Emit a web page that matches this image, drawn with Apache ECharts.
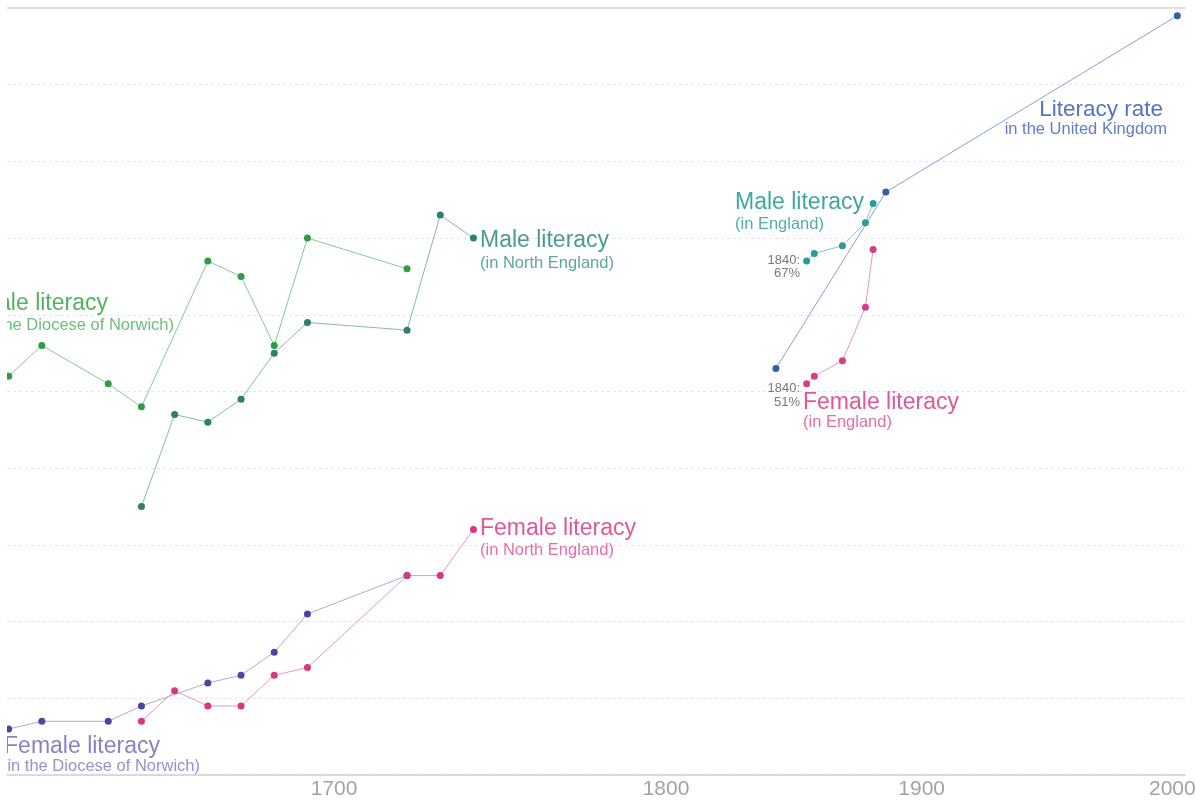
<!DOCTYPE html>
<html>
<head>
<meta charset="utf-8">
<title>Literacy in England</title>
<script src="https://cdn.jsdelivr.net/npm/echarts@6/dist/echarts.min.js"></script>
<style>
  html, body { margin: 0; padding: 0; background: #fff; }
  #main { width: 1199px; height: 801px; }
</style>
</head>
<body>
<div id="main"></div>
<script>
// years and literacy rates (%)
const norwichYears = [1602, 1612, 1632, 1642, 1662, 1672, 1682, 1692, 1722];
const norwichMale = [52, 56, 51, 48, 67, 65, 56, 70, 66];
const norwichFemale = [6, 7, 7, 9, 12, 13, 16, 21, 26];

const northYears = [1642, 1652, 1662, 1672, 1682, 1692, 1722, 1732, 1742];
const northMale = [35, 47, 46, 49, 55, 59, 58, 73, 70];
const northFemale = [7, 11, 9, 9, 13, 14, 26, 26, 32];

const englandYears = [1855, 1858, 1869, 1878, 1881];
const englandMale = [67, 68, 69, 72, 74.5];
const englandFemale = [51, 52, 54, 61, 68.5];

const ukYears = [1843, 1886, 2000];
const ukRate = [53, 76, 99];

const yearTicks = [1700, 1800, 1900, 2000];

const FONT = "'Liberation Sans', Arial, sans-serif";

function pairs(xs, ys) {
  return xs.map((x, i) => [x, ys[i]]);
}

function yearLabel(v) {
  if (!yearTicks.includes(v)) return "";
  // last tick sits close to the right edge, nudge it inward
  return v === 2000 ? "{edge|" + v + "}" : String(v);
}

function lineSeries(name, data, grid, dot, line) {
  return {
    name: name,
    type: "line",
    xAxisIndex: grid === 1 ? 2 : 3,
    yAxisIndex: grid,
    data: data,
    symbol: "circle",
    symbolSize: 7,
    itemStyle: { color: dot },
    lineStyle: { color: line, width: 1 },
    emphasis: { disabled: true },
    z: 3
  };
}

function label(x, y, text, size, color, align) {
  return {
    type: "text",
    x: x,
    y: y,
    z: 50,
    style: {
      text: text,
      font: size + "px " + FONT,
      fill: color,
      align: align || "left",
      verticalAlign: "middle"
    }
  };
}

const chart = echarts.init(document.getElementById("main"));

const yearLabelStyle = {
  margin: 4,
  color: "#a3a3a3",
  fontSize: 21,
  fontFamily: FONT,
  formatter: yearLabel,
  rich: {
    edge: { color: "#a3a3a3", fontSize: 21, fontFamily: FONT, padding: [0, 10, 0, 0] }
  }
};

const option = {
  animation: false,
  backgroundColor: "#fff",
  grid: [
    { left: 7, right: 14, top: 8, bottom: 26, outerBoundsMode: "none" },
    { left: 2, width: 664, top: 8, bottom: 26, outerBoundsMode: "none" },
    { left: 666, width: 519, top: 8, bottom: 26, outerBoundsMode: "none" }
  ],
  xAxis: [
    {
      gridIndex: 0, type: "value", min: 0, max: 1, position: "bottom",
      axisLine: { show: true, lineStyle: { color: "#cfcfcf", width: 1.5 } },
      axisTick: { show: false }, axisLabel: { show: false }, splitLine: { show: false }
    },
    {
      gridIndex: 0, type: "value", min: 0, max: 1, position: "top",
      axisLine: { show: true, lineStyle: { color: "#dedede", width: 2 } },
      axisTick: { show: false }, axisLabel: { show: false }, splitLine: { show: false }
    },
    {
      gridIndex: 1, type: "value", min: 1600, max: 1800, interval: 100,
      axisLine: { show: false }, axisTick: { show: false }, splitLine: { show: false },
      axisLabel: Object.assign({ showMinLabel: false }, yearLabelStyle)
    },
    {
      gridIndex: 2, type: "value", min: 1800, max: 2003, interval: 100,
      axisLine: { show: false }, axisTick: { show: false }, splitLine: { show: false },
      axisLabel: Object.assign({ showMinLabel: false, showMaxLabel: false }, yearLabelStyle)
    }
  ],
  yAxis: [
    {
      gridIndex: 0, type: "value", min: 0, max: 100, interval: 10,
      axisLine: { show: false }, axisTick: { show: false }, axisLabel: { show: false },
      splitLine: { show: true, lineStyle: { color: "#e6e6e6", width: 1, type: [3, 3] } }
    },
    { gridIndex: 1, type: "value", min: 0, max: 100, show: false },
    { gridIndex: 2, type: "value", min: 0, max: 100, show: false }
  ],
  series: [
    lineSeries("Male literacy (Diocese of Norwich)", pairs(norwichYears, norwichMale), 1, "#2e9e42", "#86cb92"),
    lineSeries("Male literacy (North England)", pairs(northYears, northMale), 1, "#2c7f71", "#86b9b0"),
    lineSeries("Female literacy (Diocese of Norwich)", pairs(norwichYears, norwichFemale), 1, "#4c46a0", "#b1a9d6"),
    lineSeries("Female literacy (North England)", pairs(northYears, northFemale), 1, "#d6387f", "#e498c2"),
    lineSeries("Literacy rate (United Kingdom)", pairs(ukYears, ukRate), 2, "#2f5fb3", "#86a0da"),
    lineSeries("Male literacy (England)", pairs(englandYears, englandMale), 2, "#2a9c97", "#7fc6c3"),
    lineSeries("Female literacy (England)", pairs(englandYears, englandFemale), 2, "#d83d87", "#e597c0")
  ],
  graphic: [
    // series labels
    label(108, 304, "Male literacy", 23, "#52b262", "right"),
    label(174, 325, "(in the Diocese of Norwich)", 16.5, "#6cbf79", "right"),
    label(480, 241, "Male literacy", 23, "#4c9b8f"),
    label(480, 263, "(in North England)", 16.5, "#5fa69b"),
    label(480, 529, "Female literacy", 23, "#e0589b"),
    label(480, 550, "(in North England)", 16.5, "#e46fa8"),
    label(160, 747, "Female literacy", 23, "#8c80c4", "right"),
    label(200, 766, "(in the Diocese of Norwich)", 16.5, "#9a90ca", "right"),
    label(735, 203, "Male literacy", 23, "#3fa6a2"),
    label(735, 224, "(in England)", 16.5, "#52aeab"),
    label(803, 403, "Female literacy", 23, "#e0589b"),
    label(803, 422, "(in England)", 16.5, "#e46fa8"),
    label(1163, 110, "Literacy rate", 22.5, "#5274c3", "right"),
    label(1167, 129, "in the United Kingdom", 16.5, "#5f7fc8", "right"),
    // start-value notes
    label(800, 260, "1840:", 13, "#7a7a7a", "right"),
    label(800, 273, "67%", 13, "#7a7a7a", "right"),
    label(800, 388, "1840:", 13, "#7a7a7a", "right"),
    label(800, 402, "51%", 13, "#7a7a7a", "right"),
    // the plot is cut at its left edge
    { type: "rect", z: 100, shape: { x: 0, y: 0, width: 7, height: 801 }, style: { fill: "#fff" } }
  ]
};

chart.setOption(option);
</script>
</body>
</html>
